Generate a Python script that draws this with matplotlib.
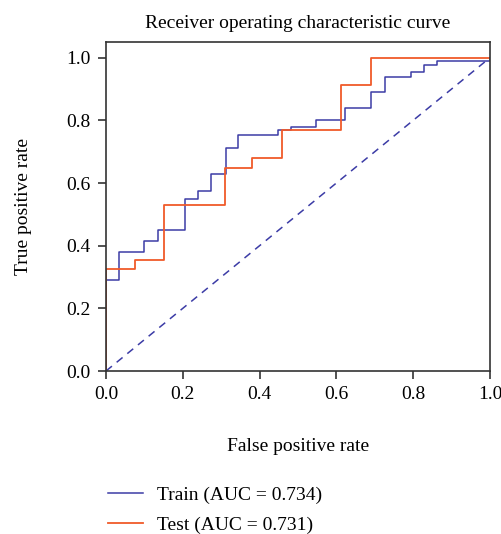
import matplotlib
matplotlib.use("Agg")
import matplotlib.pyplot as plt

train_fpr = [0.0, 0.0, 0.035, 0.035, 0.10, 0.10, 0.135, 0.135, 0.206, 0.206, 0.24, 0.24,
             0.273, 0.273, 0.313, 0.313, 0.344, 0.344, 0.448, 0.448, 0.483, 0.483,
             0.548, 0.548, 0.622, 0.622, 0.689, 0.689, 0.727, 0.727, 0.794, 0.794,
             0.828, 0.828, 0.863, 0.863, 1.0, 1.0]
train_tpr = [0.0, 0.29, 0.29, 0.38, 0.38, 0.416, 0.416, 0.45, 0.45, 0.55, 0.55, 0.575,
             0.575, 0.629, 0.629, 0.712, 0.712, 0.753, 0.753, 0.768, 0.768, 0.778,
             0.778, 0.80, 0.80, 0.84, 0.84, 0.891, 0.891, 0.939, 0.939, 0.953,
             0.953, 0.977, 0.977, 0.99, 0.99, 1.0]

test_fpr = [0.0, 0.0, 0.076, 0.076, 0.152, 0.152, 0.309, 0.309, 0.381, 0.381,
            0.459, 0.459, 0.613, 0.613, 0.689, 0.689, 1.0]
test_tpr = [0.0, 0.327, 0.327, 0.354, 0.354, 0.529, 0.529, 0.648, 0.648, 0.681,
            0.681, 0.768, 0.768, 0.912, 0.912, 1.0, 1.0]

train_label = "Train (AUC = 0.734)"
test_label = "Test (AUC = 0.731)"

plt.rcParams['font.family'] = ['Liberation Serif', 'DejaVu Serif']

blue = '#3c3ca6'
red = '#f05a2a'
fs = 14

fig = plt.figure(figsize=(5.02, 5.34), dpi=100)
ax = fig.add_axes([106/502, (534-371)/534, (490-106)/502, (371-42)/534])

l1, = ax.plot(train_fpr, train_tpr, color=blue, lw=1.1, label=train_label)
l2, = ax.plot(test_fpr, test_tpr, color=red, lw=1.3, label=test_label)
ax.plot([0, 1], [0, 1], color=blue, lw=1.1, linestyle=(0, (5, 4)))

ax.set_xlim(0, 1)
ax.set_ylim(0, 1.05)
ax.set_xticks([0, 0.2, 0.4, 0.6, 0.8, 1.0])
ax.set_yticks([0, 0.2, 0.4, 0.6, 0.8, 1.0])
ax.set_xticklabels(['0.0', '0.2', '0.4', '0.6', '0.8', '1.0'])
ax.set_yticklabels(['0.0', '0.2', '0.4', '0.6', '0.8', '1.0'])
ax.tick_params(labelsize=fs, length=6, width=1.2, color='#333333', pad=5)
for s in ax.spines.values():
    s.set_linewidth(1.2)
    s.set_color('#333333')

ax.set_title("Receiver operating characteristic curve", fontsize=fs, pad=10)
ax.set_xlabel("False positive rate", fontsize=fs, labelpad=25)
ax.set_ylabel("True positive rate", fontsize=fs, labelpad=25)

fig.legend(handles=[l1, l2], loc='upper left', bbox_to_anchor=(91/502, 1 - 469/534),
           frameon=False, fontsize=fs, handlelength=1.75, handletextpad=0.75,
           labelspacing=0.62)

fig.savefig("out.png", dpi=100)
